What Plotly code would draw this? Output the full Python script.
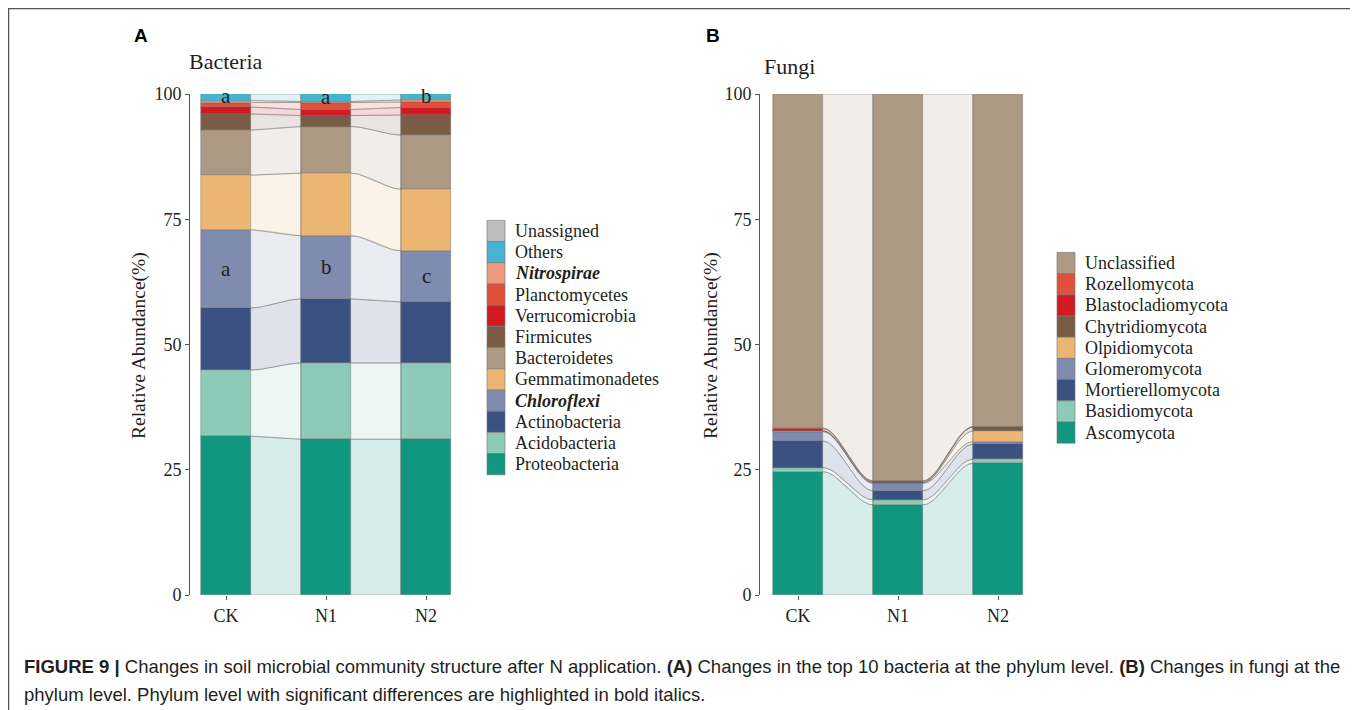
import numpy as np
import plotly.graph_objects as go

# ---------------- data ----------------
samples = ["CK", "N1", "N2"]
x_pos = [1, 2, 3]

# Bacteria (relative abundance %, bottom to top)
bac_proteobacteria = [31.7, 31.1, 31.1]
bac_acidobacteria = [13.2, 15.2, 15.2]
bac_actinobacteria = [12.4, 12.8, 12.2]
bac_chloroflexi = [15.6, 12.6, 10.2]
bac_gemmatimonadetes = [10.9, 12.5, 12.3]
bac_bacteroidetes = [9.0, 9.3, 10.8]
bac_firmicutes = [3.2, 2.2, 4.0]
bac_verrucomicrobia = [1.4, 1.2, 1.5]
bac_planctomycetes = [0.9, 1.4, 1.1]
bac_nitrospirae = [0.4, 0.2, 0.4]
bac_others = [1.3, 1.5, 1.2]
bac_unassigned = [0.0, 0.0, 0.0]

bac_others_letters = ["a", "a", "b"]
bac_chloroflexi_letters = ["a", "b", "c"]

# Fungi (relative abundance %, bottom to top)
fun_ascomycota = [24.6, 18.0, 26.3]
fun_basidiomycota = [0.8, 1.0, 0.8]
fun_mortierellomycota = [5.3, 1.8, 3.0]
fun_glomeromycota = [1.9, 1.5, 0.5]
fun_olpidiomycota = [0.1, 0.1, 2.1]
fun_chytridiomycota = [0.1, 0.1, 0.8]
fun_blastocladiomycota = [0.4, 0.2, 0.05]
fun_rozellomycota = [0.1, 0.1, 0.05]
fun_unclassified = [66.7, 77.2, 66.4]

# ---------------- styles ----------------
C_PROTEO = "#11977F"
C_ACIDO = "#8ECAB8"
C_ACTINO = "#3B5181"
C_CHLORO = "#7F8CAF"
C_GEMMA = "#EAB672"
C_BACTERO = "#AD9883"
C_FIRMI = "#7A5C45"
C_VERRUCO = "#D21A22"
C_PLANCTO = "#E0503A"
C_NITRO = "#EE9A80"
C_OTHERS = "#47B3CF"
C_UNASS = "#BDBDBD"

bac_layers = [
    ("Proteobacteria", bac_proteobacteria, C_PROTEO),
    ("Acidobacteria", bac_acidobacteria, C_ACIDO),
    ("Actinobacteria", bac_actinobacteria, C_ACTINO),
    ("<b><i>Chloroflexi</i></b>", bac_chloroflexi, C_CHLORO),
    ("Gemmatimonadetes", bac_gemmatimonadetes, C_GEMMA),
    ("Bacteroidetes", bac_bacteroidetes, C_BACTERO),
    ("Firmicutes", bac_firmicutes, C_FIRMI),
    ("Verrucomicrobia", bac_verrucomicrobia, C_VERRUCO),
    ("Planctomycetes", bac_planctomycetes, C_PLANCTO),
    ("<b><i>Nitrospirae</i></b>", bac_nitrospirae, C_NITRO),
    ("Others", bac_others, C_OTHERS),
    ("Unassigned", bac_unassigned, C_UNASS),
]
fun_layers = [
    ("Ascomycota", fun_ascomycota, C_PROTEO),
    ("Basidiomycota", fun_basidiomycota, C_ACIDO),
    ("Mortierellomycota", fun_mortierellomycota, C_ACTINO),
    ("Glomeromycota", fun_glomeromycota, C_CHLORO),
    ("Olpidiomycota", fun_olpidiomycota, C_GEMMA),
    ("Chytridiomycota", fun_chytridiomycota, C_FIRMI),
    ("Blastocladiomycota", fun_blastocladiomycota, C_VERRUCO),
    ("Rozellomycota", fun_rozellomycota, C_PLANCTO),
    ("Unclassified", fun_unclassified, C_BACTERO),
]

W, H = 1358, 710
OFF = 8  # page body margin in the browser
SERIF = "Liberation Serif, Times New Roman, serif"
SANS = "Liberation Sans, Arial, sans-serif"
TXT = "#231F20"
BAR_W = 0.5


def px(x):
    return (x - OFF) / W


def py(y):
    return 1 - (y - OFF) / H


def rgba(hexc, a):
    h = hexc.lstrip("#")
    r, g, b = int(h[0:2], 16), int(h[2:4], 16), int(h[4:6], 16)
    return f"rgba({r},{g},{b},{a})"


def smooth(t):
    return t * t * (3 - 2 * t)


fig = go.Figure()


def add_panel(layers, xa, ya):
    lowers = []
    base = np.zeros(len(x_pos))
    for name, vals, col in layers:
        v = np.array(vals, dtype=float)
        lowers.append((base.copy(), base + v))
        base = base + v
    # flows between bars
    for (name, vals, col), (lo, up) in zip(layers, lowers):
        if max(vals) <= 0:
            continue
        for j in range(len(x_pos) - 1):
            xs = np.linspace(x_pos[j] + BAR_W / 2, x_pos[j + 1] - BAR_W / 2, 60)
            t = smooth((xs - xs[0]) / (xs[-1] - xs[0]))
            yu = up[j] + (up[j + 1] - up[j]) * t
            yl = lo[j] + (lo[j + 1] - lo[j]) * t
            fig.add_trace(go.Scatter(
                x=np.concatenate([xs, xs[::-1]]),
                y=np.concatenate([yu, yl[::-1]]),
                fill="toself", fillcolor=rgba(col, 0.17),
                line=dict(color="rgba(110,110,110,0.5)", width=0.8),
                mode="lines", hoverinfo="skip", showlegend=False,
                xaxis=xa, yaxis=ya))
    # stacked bars
    for (name, vals, col), (lo, up) in zip(layers, lowers):
        if max(vals) <= 0:
            continue
        fig.add_trace(go.Bar(
            x=x_pos, y=vals, base=lo, width=BAR_W, name=name,
            marker=dict(color=col, line=dict(color="rgba(90,90,90,0.6)", width=0.6)),
            showlegend=False, xaxis=xa, yaxis=ya))
    return lowers


bac_bounds = add_panel(bac_layers, "x", "y")
fun_bounds = add_panel(fun_layers, "x2", "y2")

# significance letters
annotations = []
oth_lo, oth_up = bac_bounds[10]
chl_lo, chl_up = bac_bounds[3]
for i in range(3):
    annotations.append(dict(x=x_pos[i], y=(oth_lo[i] + oth_up[i]) / 2, xref="x", yref="y",
                            text=bac_others_letters[i], showarrow=False,
                            font=dict(family=SERIF, size=21, color=TXT), yshift=1))
    annotations.append(dict(x=x_pos[i], y=(chl_lo[i] + chl_up[i]) / 2, xref="x", yref="y",
                            text=bac_chloroflexi_letters[i], showarrow=False,
                            font=dict(family=SERIF, size=21, color=TXT)))

shapes = []


def add_legend(layers, x_sw, y_first, step=21.2):
    for i, (name, vals, col) in enumerate(layers[::-1]):
        cy = y_first + i * step
        shapes.append(dict(type="rect", xref="paper", yref="paper",
                           x0=px(x_sw), x1=px(x_sw + 18),
                           y0=py(cy - step / 2), y1=py(cy + step / 2),
                           fillcolor=col, line=dict(color="rgba(120,120,120,0.8)", width=0.8)))
        annotations.append(dict(x=px(x_sw + 26), y=py(cy), xref="paper", yref="paper",
                                xanchor="left", yanchor="middle", text=name, showarrow=False,
                                font=dict(family=SERIF, size=18, color=TXT)))


add_legend(bac_layers, 487, 231)
add_legend(fun_layers, 1057, 263)

# titles / panel letters / y titles / caption
annotations += [
    dict(x=px(187), y=py(61), xref="paper", yref="paper", xanchor="left", yanchor="middle",
         text="Bacteria", showarrow=False, font=dict(family=SERIF, size=22, color=TXT)),
    dict(x=px(762), y=py(66), xref="paper", yref="paper", xanchor="left", yanchor="middle",
         text="Fungi", showarrow=False, font=dict(family=SERIF, size=22, color=TXT)),
    dict(x=px(132), y=py(36), xref="paper", yref="paper", xanchor="left", yanchor="middle",
         text="<b>A</b>", showarrow=False, font=dict(family=SANS, size=19, color="#000")),
    dict(x=px(704), y=py(36), xref="paper", yref="paper", xanchor="left", yanchor="middle",
         text="<b>B</b>", showarrow=False, font=dict(family=SANS, size=19, color="#000")),
    dict(x=px(139), y=py(346), xref="paper", yref="paper", xanchor="center", yanchor="middle",
         text="Relative Abundance(%)", textangle=-90, showarrow=False,
         font=dict(family=SERIF, size=19.5, color=TXT)),
    dict(x=px(711), y=py(346), xref="paper", yref="paper", xanchor="center", yanchor="middle",
         text="Relative Abundance(%)", textangle=-90, showarrow=False,
         font=dict(family=SERIF, size=19.5, color=TXT)),
    dict(x=px(22), y=py(666), xref="paper", yref="paper", xanchor="left", yanchor="middle",
         text="<b>FIGURE 9 |</b> Changes in soil microbial community structure after N application. "
              "<b>(A)</b> Changes in the top 10 bacteria at the phylum level. <b>(B)</b> Changes in fungi at the",
         showarrow=False, font=dict(family=SANS, size=18.5, color=TXT)),
    dict(x=px(22), y=py(694), xref="paper", yref="paper", xanchor="left", yanchor="middle",
         text="phylum level. Phylum level with significant differences are highlighted in bold italics.",
         showarrow=False, font=dict(family=SANS, size=18.5, color=TXT)),
]

# frame
shapes += [
    dict(type="line", xref="paper", yref="paper", x0=px(8), x1=px(1355), y0=py(8.5), y1=py(8.5),
         line=dict(color="#555", width=1.5)),
    dict(type="line", xref="paper", yref="paper", x0=px(8.5), x1=px(8.5), y0=py(8), y1=py(720),
         line=dict(color="#555", width=1.5)),
    dict(type="line", xref="paper", yref="paper", x0=px(1355), x1=px(1355), y0=py(8), y1=py(720),
         line=dict(color="#555", width=1.5)),
]

ydom = [py(595), py(94)]
xaxis_common = dict(tickvals=x_pos, ticktext=samples, ticks="outside", ticklen=4,
                    tickcolor="#555", showline=False, showgrid=False, zeroline=False,
                    automargin=False,
                    tickfont=dict(family=SERIF, size=18, color=TXT), fixedrange=True)
yaxis_common = dict(range=[0, 100], tickvals=[0, 25, 50, 75, 100], ticks="outside", ticklen=4,
                    tickcolor="#555", showline=True, linecolor="#555", linewidth=1,
                    showgrid=False, zeroline=False, domain=ydom, automargin=False,
                    tickfont=dict(family=SERIF, size=18, color=TXT), fixedrange=True)

fig.update_layout(
    width=W, height=H, autosize=False,
    margin=dict(l=0, r=0, t=0, b=0, pad=0, autoexpand=False),
    paper_bgcolor="white", plot_bgcolor="white",
    barmode="overlay", bargap=0,
    showlegend=False,
    xaxis=dict(domain=[px(190), px(462)], range=[0.64, 3.36], anchor="y", **xaxis_common),
    yaxis=dict(anchor="x", **yaxis_common),
    xaxis2=dict(domain=[px(760), px(1036)], range=[0.62, 3.38], anchor="y2", **xaxis_common),
    yaxis2=dict(anchor="x2", **yaxis_common),
    annotations=annotations,
    shapes=shapes,
)

fig.write_html("out.html", config={"displayModeBar": False})
